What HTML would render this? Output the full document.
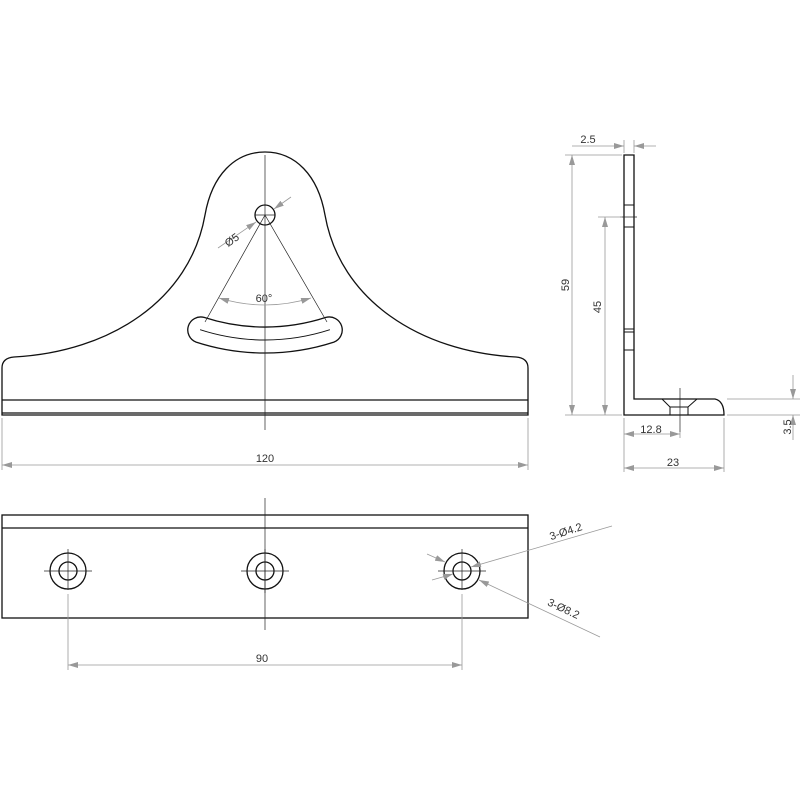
<!DOCTYPE html>
<html><head><meta charset="utf-8"><style>
html,body{margin:0;padding:0;background:#fff}
svg{display:block}
text{font-family:"Liberation Sans",sans-serif;font-size:11px;fill:#333}
</style></head><body>
<svg width="800" height="800" viewBox="0 0 800 800" xmlns="http://www.w3.org/2000/svg">
<defs>
<marker id="a" viewBox="0 0 10 6" refX="10" refY="3" markerWidth="10" markerHeight="6" orient="auto-start-reverse" markerUnits="userSpaceOnUse"><path d="M0,0 L10,3 L0,6 Z" fill="#999"/></marker>
</defs>
<g fill="none" stroke="#111" stroke-width="1.3">
<!-- front view -->
<path d="M2,415 L2,368 Q2,358 14,357 C110,352 190,300 205,215 C212,175 235,152 265,152 C295,152 318,175 325,215 C340,300 420,352 516,357 Q528,358 528,368 L528,415 Z"/>
<line x1="2" y1="400" x2="528" y2="400"/>
<line x1="2" y1="413" x2="528" y2="413"/>
<circle cx="265" cy="215" r="10"/>
<path d="M204.1,317.4 A197,197 0 0 0 325.9,317.4 A13,13 0 0 1 333.9,342.1 A223,223 0 0 1 196.1,342.1 A13,13 0 0 1 204.1,317.4 Z"/>
<path d="M200.1,329.7 A210,210 0 0 0 329.9,329.7" stroke-width="1"/>
<!-- side view -->
<path d="M624,155 L634,155 L634,399 L715,399 Q724,401 724,415 L624,415 Z"/>
<path d="M662,399 L670,407 L688,407 L697,399 M670,407 L670,415 M688,407 L688,415" stroke-width="1"/>
<path d="M624,205 H634 M624,227 H634 M624,329 H634 M624,332 H634 M624,350 H634" stroke-width="1"/>
<!-- bottom view -->
<rect x="2" y="515" width="526" height="103"/>
<line x1="2" y1="528" x2="528" y2="528"/>
<circle cx="68" cy="571" r="18"/><circle cx="68" cy="571" r="9"/>
<circle cx="265" cy="571" r="18"/><circle cx="265" cy="571" r="9"/>
<circle cx="462" cy="571" r="18"/><circle cx="462" cy="571" r="9"/>
</g>
<g stroke="#222" stroke-width="0.7" fill="none">
<line x1="265" y1="155" x2="265" y2="430"/>
<line x1="265" y1="498" x2="265" y2="630"/>
<line x1="680" y1="388" x2="680" y2="432"/>
<line x1="620" y1="217" x2="637" y2="217"/>
<path d="M44,571 H92 M68,549 V590 M241,571 H289 M265,549 V593 M438,571 H486 M462,549 V590"/>
<path d="M265,215 L205,322 M265,215 L327,322 M255,215 H275"/>
</g>
<g stroke="#999" stroke-width="0.8" fill="none">
<!-- 120 -->
<path d="M2,418 V470 M528,418 V470"/>
<line x1="2" y1="465" x2="528" y2="465" marker-start="url(#a)" marker-end="url(#a)"/>
<!-- 60 deg -->
<path d="M219,298 Q265,312 311,298" marker-start="url(#a)" marker-end="url(#a)"/>
<!-- Ø5 -->
<line x1="218" y1="248" x2="256" y2="222" marker-end="url(#a)"/>
<line x1="291" y1="197" x2="274" y2="209" marker-end="url(#a)"/>
<!-- side dims -->
<path d="M624,140 V153 M634,140 V153"/>
<line x1="572" y1="146" x2="624" y2="146" marker-end="url(#a)"/>
<line x1="656" y1="146" x2="634" y2="146" marker-end="url(#a)"/>
<path d="M565,155 H622 M565,415 H622 M598,217 H622"/>
<line x1="572" y1="155" x2="572" y2="415" marker-start="url(#a)" marker-end="url(#a)"/>
<line x1="605" y1="217" x2="605" y2="415" marker-start="url(#a)" marker-end="url(#a)"/>
<path d="M624,418 V472 M724,418 V472 M680,432 V438"/>
<line x1="624" y1="434" x2="680" y2="434" marker-start="url(#a)" marker-end="url(#a)"/>
<line x1="624" y1="468" x2="724" y2="468" marker-start="url(#a)" marker-end="url(#a)"/>
<path d="M727,399 H800 M727,415 H800"/>
<line x1="793" y1="375" x2="793" y2="399" marker-end="url(#a)"/>
<line x1="793" y1="440" x2="793" y2="415" marker-end="url(#a)"/>
<!-- 90 -->
<path d="M68,594 V670 M462,594 V670"/>
<line x1="68" y1="665" x2="462" y2="665" marker-start="url(#a)" marker-end="url(#a)"/>
<!-- leaders -->
<line x1="612" y1="526" x2="471" y2="567" marker-end="url(#a)"/>
<line x1="432" y1="580" x2="453" y2="574" marker-end="url(#a)"/>
<line x1="600" y1="637" x2="479" y2="580" marker-end="url(#a)"/>
<line x1="427" y1="554" x2="445" y2="562" marker-end="url(#a)"/>
</g>
<text x="265" y="462" text-anchor="middle">120</text>
<text x="264" y="302" text-anchor="middle">60°</text>
<text transform="translate(234,243) rotate(-35)" text-anchor="middle">Ø5</text>
<text x="588" y="143" text-anchor="middle">2.5</text>
<text transform="translate(569,285) rotate(-90)" text-anchor="middle">59</text>
<text transform="translate(601,307) rotate(-90)" text-anchor="middle">45</text>
<text x="651" y="433" text-anchor="middle">12.8</text>
<text x="673" y="466" text-anchor="middle">23</text>
<text transform="translate(791,427) rotate(-90)" text-anchor="middle">3.5</text>
<text x="262" y="662" text-anchor="middle">90</text>
<text transform="translate(567,535) rotate(-18)" text-anchor="middle">3-Ø4.2</text>
<text transform="translate(562,612) rotate(25)" text-anchor="middle">3-Ø8.2</text>
</svg>
</body></html>
